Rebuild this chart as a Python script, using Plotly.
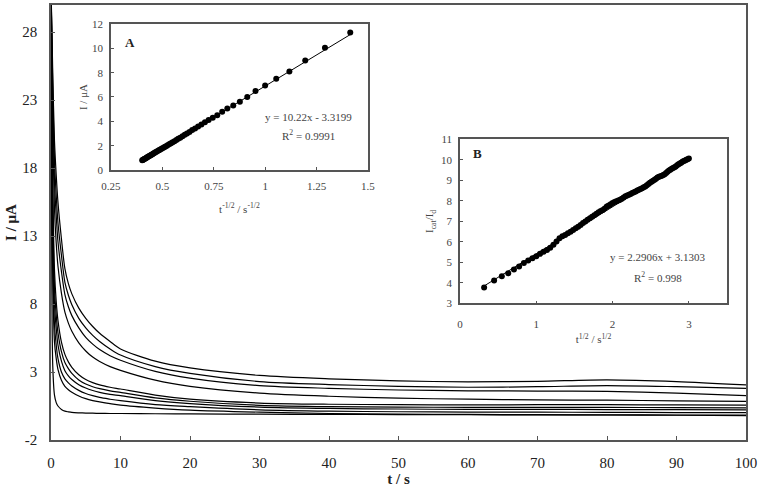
import plotly.graph_objects as go

# chronoamperograms, main plot (t in s, I in uA)
t_s = [0, 0.1, 0.25, 0.5, 0.75, 1, 1.5, 2, 2.5, 3, 4, 5, 6, 7, 8.5, 10,
       15, 20, 30, 40, 50, 60, 70, 80, 90, 100]
curves = [
    [31, 29, 25, 20, 17.5, 15.5, 12.8, 10.6, 9.5, 8.75, 7.7, 6.95, 6.35, 5.85, 5.25, 4.7,
     3.8, 3.3, 2.75, 2.5, 2.35, 2.28, 2.32, 2.43, 2.3, 2.05],
    [31, 28.5, 24, 18.5, 16, 14, 11.6, 9.6, 8.65, 7.95, 6.95, 6.25, 5.7, 5.25, 4.7, 4.25,
     3.4, 2.9, 2.3, 2.08, 1.95, 1.88, 1.92, 2.0, 1.92, 1.8],
    [31, 28, 23, 17, 14.5, 12.6, 10.4, 8.7, 7.8, 7.15, 6.25, 5.55, 5.05, 4.65, 4.2, 3.87,
     3.05, 2.55, 2.0, 1.8, 1.68, 1.62, 1.6, 1.58, 1.45, 1.26],
    [31, 27, 21, 15, 12.5, 10.8, 8.8, 7.4, 6.6, 6.0, 5.15, 4.55, 4.1, 3.78, 3.4, 3.12,
     2.4, 1.95, 1.45, 1.22, 1.08, 1.0, 0.95, 0.93, 0.88, 0.84],
    [31, 25, 17, 10.5, 8.2, 6.8, 5.2, 4.3, 3.75, 3.35, 2.8, 2.45, 2.22, 2.05, 1.88, 1.75,
     1.3, 1.0, 0.72, 0.63, 0.6, 0.58, 0.6, 0.6, 0.58, 0.56],
    [31, 24, 15.5, 9.2, 7.2, 5.9, 4.5, 3.7, 3.25, 2.9, 2.42, 2.12, 1.92, 1.78, 1.62, 1.5,
     1.1, 0.85, 0.55, 0.45, 0.42, 0.4, 0.4, 0.4, 0.38, 0.37],
    [31, 23, 14, 8, 6.2, 5.0, 3.8, 3.1, 2.72, 2.45, 2.07, 1.82, 1.64, 1.5, 1.36, 1.26,
     0.9, 0.68, 0.42, 0.32, 0.28, 0.25, 0.25, 0.24, 0.23, 0.22],
    [31, 21, 12, 6.5, 5.0, 4.0, 3.0, 2.5, 2.2, 1.97, 1.65, 1.42, 1.26, 1.13, 1.0, 0.89,
     0.6, 0.45, 0.22, 0.12, 0.08, 0.05, 0.05, 0.03, 0.02, 0.01],
    [31, 19, 10, 5.2, 4.0, 3.2, 2.4, 1.95, 1.7, 1.52, 1.24, 1.04, 0.9, 0.8, 0.67, 0.56,
     0.35, 0.2, 0.05, -0.05, -0.1, -0.12, -0.14, -0.15, -0.16, -0.16],
    [31, 12, 3.5, 1.3, 0.75, 0.5, 0.25, 0.12, 0.07, 0.03, 0.0, -0.02, -0.03, -0.04, -0.05, -0.05,
     -0.07, -0.08, -0.1, -0.12, -0.13, -0.14, -0.15, -0.16, -0.18, -0.2],
]
main_yticks = [-2, 3, 8, 13, 18, 23, 28]
main_ytext = ["-2", "3", "8", "13", "18", "23", "28"]

# inset A: I vs t^-1/2
a_x = [1.414, 1.291, 1.195, 1.118, 1.054, 1.000, 0.953, 0.913, 0.877, 0.845, 0.816, 0.791, 0.767, 0.745,
       0.725, 0.707, 0.690, 0.674, 0.659, 0.645, 0.632, 0.620, 0.609, 0.598, 0.587, 0.577, 0.568, 0.559,
       0.550, 0.542, 0.535, 0.527, 0.520, 0.513, 0.507, 0.500, 0.494, 0.488, 0.483, 0.477, 0.471, 0.466,
       0.461, 0.456, 0.452, 0.447, 0.443, 0.439, 0.434, 0.430, 0.426, 0.423, 0.419, 0.415, 0.412, 0.408,
       0.405, 0.402]
a_y = [11.3, 10.05, 9.0, 8.1, 7.5, 6.95, 6.5, 6.0, 5.6, 5.3, 5.05, 4.78, 4.5, 4.3,
       4.1, 3.92, 3.75, 3.58, 3.42, 3.28, 3.13, 3.0, 2.9, 2.78, 2.66, 2.56, 2.46, 2.37,
       2.28, 2.2, 2.13, 2.05, 1.98, 1.91, 1.85, 1.79, 1.73, 1.67, 1.62, 1.56, 1.5, 1.45,
       1.4, 1.35, 1.3, 1.25, 1.21, 1.17, 1.12, 1.08, 1.04, 1.0, 0.97, 0.93, 0.9, 0.86,
       0.83, 0.8]
a_slope, a_icpt = 10.22, -3.3199

# inset B: Icat/Id vs t^1/2
b_x = [0.316, 0.447, 0.548, 0.632, 0.707, 0.775, 0.837, 0.894, 0.949, 1.000,
       1.049, 1.095, 1.140, 1.183, 1.225, 1.265, 1.304, 1.342, 1.378, 1.414,
       1.449, 1.483, 1.517, 1.549, 1.581, 1.612, 1.643, 1.673, 1.703, 1.732,
       1.761, 1.789, 1.817, 1.844, 1.871, 1.897, 1.924, 1.949, 1.975, 2.000,
       2.025, 2.049, 2.074, 2.098, 2.121, 2.145, 2.168, 2.191, 2.214, 2.236,
       2.258, 2.280, 2.302, 2.324, 2.345, 2.366, 2.387, 2.408, 2.429, 2.449,
       2.470, 2.490, 2.510, 2.530, 2.550, 2.569, 2.588, 2.608, 2.627, 2.646,
       2.665, 2.683, 2.702, 2.720, 2.739, 2.757, 2.775, 2.793, 2.811, 2.828,
       2.846, 2.864, 2.881, 2.898, 2.915, 2.933, 2.950, 2.966, 2.983, 3.000]
b_y = [3.78, 4.12, 4.33, 4.47, 4.66, 4.8, 4.97, 5.1, 5.2, 5.3,
       5.42, 5.52, 5.6, 5.72, 5.86, 6.02, 6.18, 6.27, 6.34, 6.42,
       6.5, 6.58, 6.66, 6.74, 6.83, 6.92, 7.0, 7.08, 7.15, 7.22,
       7.3, 7.37, 7.44, 7.5, 7.56, 7.63, 7.72, 7.78, 7.84, 7.9,
       7.95, 7.98, 8.02, 8.06, 8.1, 8.16, 8.22, 8.26, 8.3, 8.33,
       8.38, 8.42, 8.45, 8.5, 8.54, 8.58, 8.62, 8.66, 8.7, 8.76,
       8.82, 8.88, 8.93, 8.98, 9.03, 9.08, 9.14, 9.18, 9.2, 9.22,
       9.26, 9.3, 9.36, 9.42, 9.48, 9.52, 9.56, 9.6, 9.64, 9.68,
       9.74, 9.78, 9.82, 9.86, 9.9, 9.94, 9.97, 10.0, 10.03, 10.06]
b_slope, b_icpt = 2.2906, 3.1303

SERIF = "Liberation Serif"
AX = "#555555"

fig = go.Figure()

for c in curves:
    fig.add_trace(go.Scatter(x=t_s, y=c, mode="lines",
                             line=dict(color="black", width=1.2, shape="spline", smoothing=0.8),
                             showlegend=False, hoverinfo="skip"))

# inset A
ax_lo, ax_hi = min(a_x), max(a_x)
fig.add_trace(go.Scatter(x=[ax_lo, ax_hi], y=[a_slope * ax_lo + a_icpt, a_slope * ax_hi + a_icpt],
                         mode="lines", line=dict(color="black", width=1),
                         xaxis="x2", yaxis="y2", showlegend=False))
fig.add_trace(go.Scatter(x=a_x, y=a_y, mode="markers", marker=dict(color="black", size=6),
                         xaxis="x2", yaxis="y2", showlegend=False))

# inset B
bx_lo, bx_hi = min(b_x), max(b_x)
fig.add_trace(go.Scatter(x=[bx_lo, bx_hi], y=[b_slope * bx_lo + b_icpt, b_slope * bx_hi + b_icpt],
                         mode="lines", line=dict(color="black", width=1),
                         xaxis="x3", yaxis="y3", showlegend=False))
fig.add_trace(go.Scatter(x=b_x, y=b_y, mode="markers", marker=dict(color="black", size=6),
                         xaxis="x3", yaxis="y3", showlegend=False))

main_ax = dict(showline=True, linecolor=AX, linewidth=1.5, mirror=True, showgrid=False,
               zeroline=False, ticks="inside", ticklen=4, tickcolor=AX, automargin=False,
               tickfont=dict(family=SERIF, size=15, color="#222"))
inset_ax = dict(showline=True, linecolor=AX, linewidth=1.5, mirror=True, showgrid=False,
                zeroline=False, ticks="inside", ticklen=3, tickcolor=AX, automargin=False,
                tickfont=dict(family=SERIF, size=11, color="#444"))
inset_title = dict(family=SERIF, size=11, color="#444")

fig.update_layout(
    width=760, height=495,
    margin=dict(l=51, r=14, t=5, b=55),
    paper_bgcolor="white", plot_bgcolor="white",
    xaxis=dict(main_ax, range=[0, 100], dtick=10, ticklabelstandoff=8,
               title=dict(text="<b>t / s</b>", font=dict(family=SERIF, size=15, color="#222"), standoff=2)),
    yaxis=dict(main_ax, range=[-2, 30], tickvals=main_yticks, ticktext=main_ytext, ticklabelstandoff=9,
               title=dict(text="<b>I / μA</b>", font=dict(family=SERIF, size=15, color="#222"), standoff=2)),
    xaxis2=dict(inset_ax, domain=[0.0863, 0.456], anchor="y2", range=[0.25, 1.5], dtick=0.25,
                ticklabelstandoff=5,
                title=dict(text="t<sup>-1/2</sup> / s<sup>-1/2</sup>", font=inset_title, standoff=14)),
    yaxis2=dict(inset_ax, domain=[0.6207, 0.9563], anchor="x2", range=[0, 12], dtick=2,
                ticklabelstandoff=4,
                title=dict(text="I / μA", font=inset_title, standoff=2)),
    xaxis3=dict(inset_ax, domain=[0.5885, 0.9727], anchor="y3", range=[0, 3.5], dtick=1,
                ticklabelstandoff=10,
                title=dict(text="t<sup>1/2</sup> / s<sup>1/2</sup>", font=inset_title, standoff=6)),
    yaxis3=dict(inset_ax, domain=[0.3138, 0.6913], anchor="x3", range=[3, 11], dtick=1,
                ticklabelstandoff=4,
                title=dict(text="I<sub>cat</sub>/I<sub>d</sub>", font=inset_title, standoff=5)),
)

note = dict(font=dict(family=SERIF, size=11, color="#444"), showarrow=False)
fig.add_annotation(note, x=1.21, y=4.35, xref="x2", yref="y2", text="y = 10.22x - 3.3199")
fig.add_annotation(note, x=1.21, y=2.9, xref="x2", yref="y2", text="R<sup>2</sup> = 0.9991")
fig.add_annotation(note, x=2.59, y=5.28, xref="x3", yref="y3", text="y = 2.2906x + 3.1303")
fig.add_annotation(note, x=2.6, y=4.31, xref="x3", yref="y3", text="R<sup>2</sup> = 0.998")
fig.add_annotation(x=0.342, y=10.5, xref="x2", yref="y2", text="<b>A</b>", showarrow=False,
                   font=dict(family=SERIF, size=13, color="#222"))
fig.add_annotation(x=0.227, y=10.33, xref="x3", yref="y3", text="<b>B</b>", showarrow=False,
                   font=dict(family=SERIF, size=13, color="#222"))

# page body has an 8px default margin; drop it so the figure sits at the window corner
fig.write_html("out.html", config={"displayModeBar": False},
               post_script="document.body.style.margin='0';")
